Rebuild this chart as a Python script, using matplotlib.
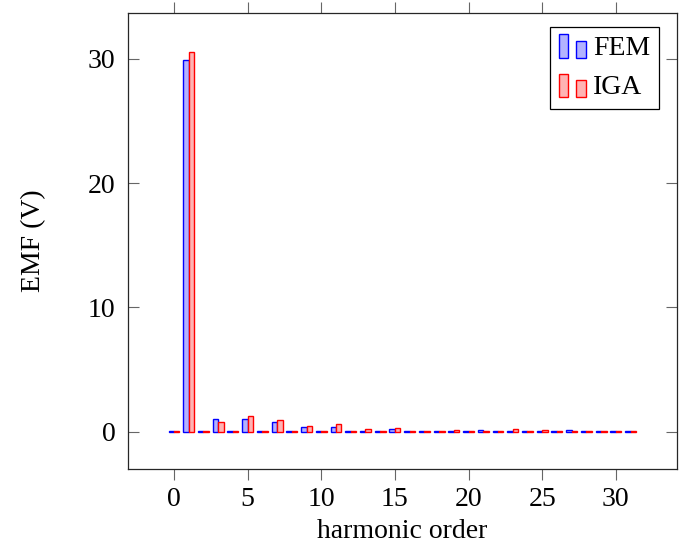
import matplotlib
matplotlib.use("Agg")
import matplotlib.pyplot as plt
import matplotlib.patches as mpatches
from matplotlib.legend_handler import HandlerBase
import numpy as np

# harmonic orders 0..31 and the EMF amplitude of each (V)
harmonics = np.arange(0, 32)
emf_fem = [0.02, 29.9, 0.02, 1.05, 0.02, 1.05, 0.02, 0.78, 0.02, 0.40, 0.02, 0.38,
           0.02, 0.06, 0.02, 0.20, 0.02, 0.02, 0.02, 0.03, 0.02, 0.10, 0.02, 0.05,
           0.02, 0.07, 0.02, 0.12, 0.02, 0.03, 0.02, 0.03]
emf_iga = [0.02, 30.6, 0.02, 0.80, 0.02, 1.26, 0.02, 0.91, 0.02, 0.46, 0.02, 0.59,
           0.02, 0.24, 0.02, 0.30, 0.02, 0.02, 0.02, 0.10, 0.02, 0.05, 0.02, 0.20,
           0.02, 0.12, 0.02, 0.08, 0.02, 0.03, 0.02, 0.03]
series_labels = ["FEM", "IGA"]

plt.rcParams["font.family"] = ["Liberation Serif", "DejaVu Serif"]
plt.rcParams["font.size"] = 20


class HandlerTwoBars(HandlerBase):
    """pgfplots-like ybar legend image: a tall bar and a shorter one."""

    def create_artists(self, legend, orig_handle, xdescent, ydescent,
                       width, height, fontsize, trans):
        fc = orig_handle.get_facecolor()
        ec = orig_handle.get_edgecolor()
        y0 = -ydescent - height * 0.15
        r1 = mpatches.Rectangle((-xdescent, y0), width * 0.33, height * 1.2,
                                facecolor=fc, edgecolor=ec, lw=1.0, transform=trans)
        r2 = mpatches.Rectangle((-xdescent + width * 0.62, y0), width * 0.36, height * 0.88,
                                facecolor=fc, edgecolor=ec, lw=1.0, transform=trans)
        return [r1, r2]


fig = plt.figure(figsize=(6.84, 5.46), dpi=100)
ax = fig.add_axes([128 / 684, 1 - 469 / 546, (677 - 128) / 684, (469 - 13) / 546])

bw = 0.37
b1 = ax.bar(harmonics - bw / 2, emf_fem, width=bw, facecolor="#b3b3ff",
            edgecolor="blue", linewidth=1.0, label=series_labels[0])
b2 = ax.bar(harmonics + bw / 2, emf_iga, width=bw, facecolor="#ffb3b3",
            edgecolor="red", linewidth=1.0, label=series_labels[1])

ax.set_xlim(-3.12, 34.15)
ax.set_ylim(-3.0, 33.7)
ax.set_xticks([0, 5, 10, 15, 20, 25, 30])
ax.set_yticks([0, 10, 20, 30])

ax.tick_params(axis="x", direction="out", top=True, length=8, color="0.4", width=0.8, pad=5)
ax.tick_params(axis="y", direction="in", right=True, length=8, color="0.4", width=0.8, pad=9)
for s in ax.spines.values():
    s.set_linewidth(0.9)
    s.set_color("0.15")

ax.set_xlabel("harmonic order", labelpad=5)
ax.set_ylabel("EMF (V)", labelpad=30)

leg = ax.legend(handler_map={mpatches.Rectangle: HandlerTwoBars()},
                handles=[b1.patches[0], b2.patches[0]], labels=series_labels,
                loc="upper right", bbox_to_anchor=(0.967, 0.969), borderaxespad=0,
                fancybox=False, edgecolor="black", framealpha=1, handlelength=1.0,
                handletextpad=0.25, borderpad=0.3, labelspacing=0.5)
leg.get_frame().set_linewidth(0.9)

fig.savefig("out.png", dpi=100)
